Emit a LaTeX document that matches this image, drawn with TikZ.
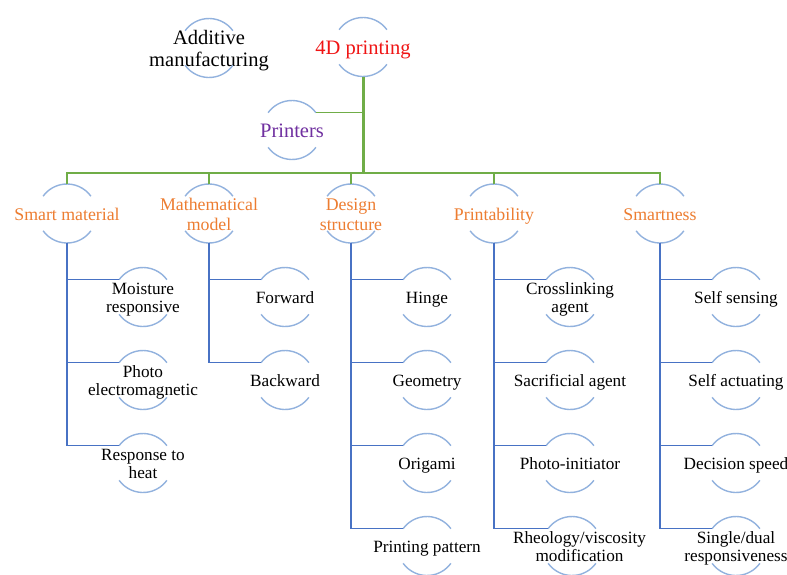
\documentclass[tikz,border=0pt]{standalone}
\usepackage{fontspec}
\setmainfont{Liberation Serif}

\definecolor{rimblue}{RGB}{146,178,222}
\definecolor{stemblue}{RGB}{72,114,196}
\definecolor{trunkgreen}{RGB}{112,173,71}
\definecolor{headorange}{RGB}{237,125,49}
\definecolor{printpurple}{RGB}{112,48,160}
\definecolor{rootred}{RGB}{240,20,20}

% zero-width, centred stack of lines (lowered a little), so the circle keeps its size
\newcommand\ctext[2][0pt]{\raisebox{-3pt}[\height][\depth]{\makebox[0pt]{\hspace{#1}\begin{tabular}{@{}c@{}}#2\end{tabular}}}}

\tikzset{
  bubble/.style={circle, minimum size=59pt, inner sep=0pt, outer sep=0pt},
  rootnode/.style={bubble, font=\fontsize{20.5}{21.7}\selectfont},
  headnode/.style={bubble, font=\fontsize{17.8}{19.5}\selectfont, text=headorange},
  leafnode/.style={bubble, font=\fontsize{17.2}{18.3}\selectfont},
  rim/.style={draw=rimblue, line width=1.4pt},
  trunk/.style={draw=trunkgreen, line width=3pt},
  bus/.style={draw=trunkgreen, line width=1.5pt},
  twig/.style={draw=trunkgreen, line width=1.2pt},
  stem/.style={draw=stemblue, line width=1.5pt},
}

\begin{document}
\begin{tikzpicture}[x=1pt, y=-1pt]
  \useasboundingbox (0,0) rectangle (787,574);
  \fill[white] (0,0) rectangle (787,574);
  \clip (0,0) rectangle (787,574);

  % top row
  \node[rootnode] (am)  at (209,48)  {\ctext{Additive\\manufacturing}};
  \node[rootnode, text=rootred] (p4d) at (363,47) {\ctext{4D printing}};
  \node[rootnode, text=printpurple] (prn) at (292,130) {\ctext{Printers}};

  % category row
  \node[headnode] (sm) at (67,213.5)  {\ctext{Smart material}};
  \node[headnode] (mm) at (209,213.5) {\ctext{Mathematical\\model}};
  \node[headnode] (ds) at (351,213.5) {\ctext{Design\\structure}};
  \node[headnode] (pa) at (494,213.5) {\ctext{Printability}};
  \node[headnode] (sn) at (660,213.5) {\ctext{Smartness}};

  % leaves
  \node[leafnode] (sm1) at (143,297) {\ctext{Moisture\\responsive}};
  \node[leafnode] (sm2) at (143,380) {\ctext{Photo\\electromagnetic}};
  \node[leafnode] (sm3) at (143,463) {\ctext{Response to\\heat}};

  \node[leafnode] (mm1) at (285,297) {\ctext{Forward}};
  \node[leafnode] (mm2) at (285,380) {\ctext{Backward}};

  \node[leafnode] (ds1) at (427,297) {\ctext{Hinge}};
  \node[leafnode] (ds2) at (427,380) {\ctext{Geometry}};
  \node[leafnode] (ds3) at (427,463) {\ctext{Origami}};
  \node[leafnode] (ds4) at (427,546) {\ctext{Printing pattern}};

  \node[leafnode] (pa1) at (570,297) {\ctext{Crosslinking\\agent}};
  \node[leafnode] (pa2) at (570,380) {\ctext{Sacrificial agent}};
  \node[leafnode] (pa3) at (570,463) {\ctext{Photo-initiator}};
  \node[leafnode] (pa4) at (572,546) {\ctext[15pt]{Rheology/viscosity\\modification}};

  \node[leafnode] (sn1) at (736,297) {\ctext{Self sensing}};
  \node[leafnode] (sn2) at (736,380) {\ctext{Self actuating}};
  \node[leafnode] (sn3) at (736,463) {\ctext{Decision speed}};
  \node[leafnode] (sn4) at (736,546) {\ctext{Single/dual\\responsiveness}};

  % upper and lower arcs of every bubble
  \foreach \n in {am,p4d,prn,sm,mm,ds,pa,sn,
                  sm1,sm2,sm3,mm1,mm2,ds1,ds2,ds3,ds4,
                  pa1,pa2,pa3,pa4,sn1,sn2,sn3,sn4}{
    \draw[rim] (\n.36) arc[start angle=36, end angle=144, radius=29.5pt];
    \draw[rim] (\n.216) arc[start angle=216, end angle=324, radius=29.5pt];
  }

  % green hierarchy
  \coordinate (busy) at (0,173);
  \draw[twig] (prn.36) -- (prn.36 -| p4d.south);
  \draw[bus] (sm.north) -- (sm.north |- busy) -- (sn.north |- busy) -- (sn.north);
  \foreach \n in {mm,ds,pa}
    \draw[bus] (\n.north) -- (\n.north |- busy);
  \draw[trunk] (p4d.south) -- (p4d.south |- busy);

  % blue branches to the leaves
  \foreach \p/\c in {sm/sm1,sm/sm2,sm/sm3,mm/mm1,mm/mm2,
                     ds/ds1,ds/ds2,ds/ds3,ds/ds4,
                     pa/pa1,pa/pa2,pa/pa3,pa/pa4,
                     sn/sn1,sn/sn2,sn/sn3,sn/sn4}
    \draw[stem] (\p.south) |- (\c.144);
\end{tikzpicture}
\end{document}
